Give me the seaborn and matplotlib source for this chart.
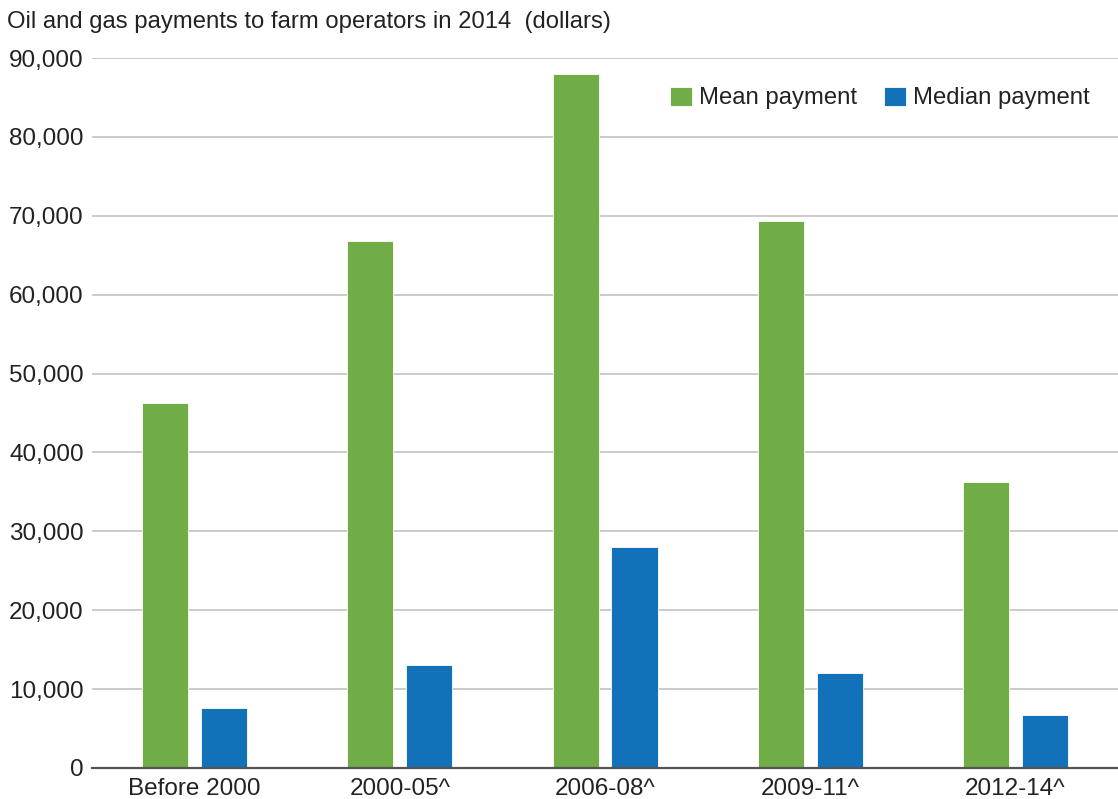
import pandas as pd
import numpy as np
import seaborn as sns
import matplotlib
matplotlib.use("Agg")
import matplotlib.pyplot as plt
from matplotlib.ticker import FuncFormatter

periods = ["Before 2000", "2000-05^", "2006-08^", "2009-11^", "2012-14^"]
mean_payment = [46250, 66800, 88000, 69300, 36200]
median_payment = [7600, 13050, 28000, 12050, 6700]
series = ["Mean payment", "Median payment"]
colors = ["#70AD47", "#1172BA"]

df = pd.DataFrame({
    "period": periods * 2,
    "series": [series[0]] * 5 + [series[1]] * 5,
    "value": mean_payment + median_payment,
})

sns.set_theme(style="white")
plt.rcParams['font.family'] = ['Liberation Sans', 'DejaVu Sans']

fig = plt.figure(figsize=(11.18, 7.99), dpi=100)
ax = fig.add_axes([0.0823, 0.0388, 0.9177, 0.8886])

sns.barplot(data=df, x="period", y="value", hue="series", order=periods,
            hue_order=series, palette=colors, saturation=1, width=0.575, gap=0.22,
            edgecolor="white", linewidth=0.6, ax=ax, zorder=3)

ax.set_ylim(0, 90000)
ax.set_xlim(-0.5, 4.5)
ax.set_yticks(np.arange(0, 90001, 10000))
ax.yaxis.set_major_formatter(FuncFormatter(lambda v, p: f"{int(v):,}"))
ax.grid(axis="y", color="#bdbdbd", linewidth=1.1, zorder=0)
ax.set_axisbelow(True)
for s in ["top", "right", "left"]:
    ax.spines[s].set_visible(False)
ax.spines["bottom"].set_color("#555555")
ax.spines["bottom"].set_linewidth(1.6)
ax.spines["bottom"].set_zorder(5)
ax.tick_params(axis="both", length=0, labelsize=17.5, colors="#222222")
ax.tick_params(axis="x", pad=7)
ax.tick_params(axis="y", pad=6)
ax.set_xlabel("")
ax.set_ylabel("")

fig.text(0.006, 0.972, "Oil and gas payments to farm operators in 2014  (dollars)",
         fontsize=17.2, color="#222222", va="center", ha="left")

leg = ax.legend(loc="upper right", bbox_to_anchor=(0.993, 0.99), frameon=False,
                ncol=2, fontsize=17.2, handlelength=0.92, handleheight=0.85,
                handletextpad=0.3, columnspacing=1.1)
for t in leg.get_texts():
    t.set_color("#222222")

fig.savefig("out.png", dpi=100)
